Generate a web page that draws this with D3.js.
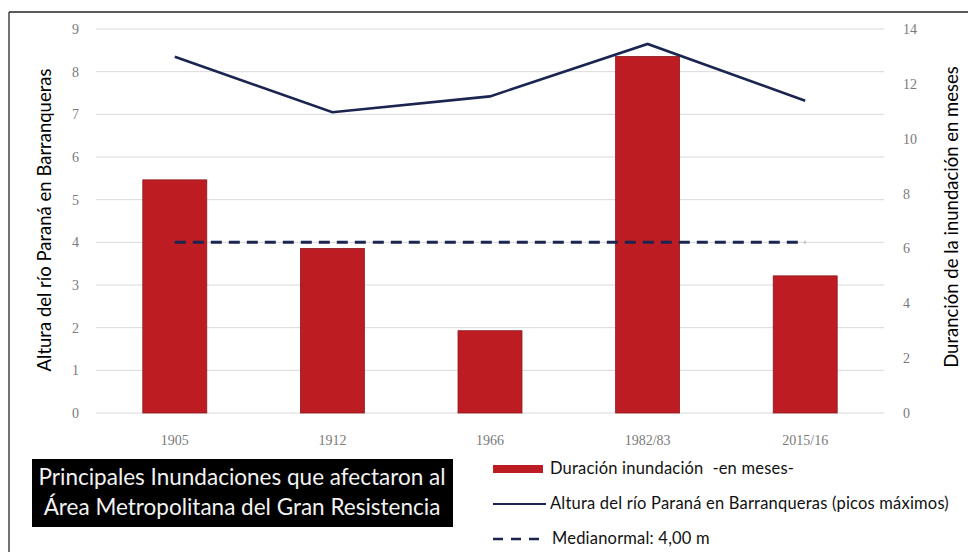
<!DOCTYPE html>
<html>
<head>
<meta charset="utf-8">
<script src="https://cdn.jsdelivr.net/npm/d3@7"></script>
<style>
  body { margin: 0; background: #fff; }
  svg { display: block; }
</style>
</head>
<body>
<svg></svg>
<script>
// data
const years = ["1905", "1912", "1966", "1982/83", "2015/16"];
const duracion = [8.5, 6, 3, 13, 5]; // months, right axis
const altura = [8.35, 7.05, 7.42, 8.65, 7.32]; // m, left axis
const mediaNormal = 4;
const leftTicks = [0, 1, 2, 3, 4, 5, 6, 7, 8, 9];
const rightTicks = [0, 2, 4, 6, 8, 10, 12, 14];

const width = 968, height = 552;
const svg = d3.select("svg").attr("width", width).attr("height", height);

const plot = { left: 96, right: 884, top: 29, bottom: 413 };

// outer frame (top and left only)
svg.append("line").attr("x1", 9).attr("x2", width).attr("y1", 12).attr("y2", 12)
  .attr("stroke", "#222").attr("stroke-width", 1.5);
svg.append("line").attr("x1", 9).attr("x2", 9).attr("y1", 12).attr("y2", height)
  .attr("stroke", "#444").attr("stroke-width", 1.5);

const x = d3.scaleBand().domain(years).range([plot.left, plot.right])
  .paddingInner(0.594).paddingOuter(0.297);
const yL = d3.scaleLinear().domain([0, 9]).range([plot.bottom, plot.top]);
const yR = d3.scaleLinear().domain([0, 14]).range([plot.bottom, plot.top]);
const cx = (d) => x(d) + x.bandwidth() / 2;

// gridlines
svg.append("g").selectAll("line").data(leftTicks).join("line")
  .attr("x1", plot.left).attr("x2", plot.right)
  .attr("y1", (d) => yL(d)).attr("y2", (d) => yL(d))
  .attr("stroke", "#d9d9d9").attr("stroke-width", 1);

// left axis
const yAxisL = d3.axisLeft(yL).tickValues(leftTicks).tickSize(0).tickPadding(0);
svg.append("g").attr("transform", `translate(${79},0)`).call(yAxisL)
  .call((g) => g.select(".domain").remove())
  .selectAll("text").attr("font-family", "Liberation Serif, serif")
  .attr("font-size", 14).attr("fill", "#7a7a7a");

// right axis
const yAxisR = d3.axisRight(yR).tickValues(rightTicks).tickSize(0).tickPadding(0);
svg.append("g").attr("transform", `translate(${903},0)`).call(yAxisR)
  .call((g) => g.select(".domain").remove())
  .selectAll("text").attr("font-family", "Liberation Serif, serif")
  .attr("font-size", 14).attr("fill", "#7a7a7a");

// x axis labels
const xAxis = d3.axisBottom(x).tickSize(0).tickPadding(0);
svg.append("g").attr("transform", `translate(0,${435})`).call(xAxis)
  .call((g) => g.select(".domain").remove())
  .selectAll("text").attr("font-family", "Liberation Serif, serif")
  .attr("font-size", 14).attr("fill", "#7a7a7a");

// bars
svg.append("g").selectAll("rect").data(years).join("rect")
  .attr("x", (d) => x(d))
  .attr("width", x.bandwidth())
  .attr("y", (d, i) => yR(duracion[i]))
  .attr("height", (d, i) => plot.bottom - yR(duracion[i]))
  .attr("fill", "#bd1c23")
  .attr("stroke", "#8e1a20").attr("stroke-width", 0.8);

// media normal dashed line
svg.append("line")
  .attr("x1", cx(years[0])).attr("x2", cx(years[years.length - 1]))
  .attr("y1", yL(mediaNormal)).attr("y2", yL(mediaNormal))
  .attr("stroke", "#1b2550").attr("stroke-width", 3)
  .attr("stroke-dasharray", "11,7");

// altura line
const line = d3.line().x((d, i) => cx(years[i])).y((d) => yL(d));
svg.append("path").datum(altura).attr("d", line)
  .attr("fill", "none").attr("stroke", "#1b2550").attr("stroke-width", 2.6)
  .attr("stroke-linejoin", "miter");

// axis titles
svg.append("text")
  .attr("transform", `translate(${51},${220}) rotate(-90)`)
  .attr("text-anchor", "middle")
  .attr("font-family", "Lato, sans-serif").attr("font-size", 18.5)
  .attr("fill", "#000")
  .text("Altura del río Paraná en Barranqueras");

svg.append("text")
  .attr("transform", `translate(${958},${217}) rotate(-90)`)
  .attr("text-anchor", "middle")
  .attr("font-family", "Lato, sans-serif").attr("font-size", 18.5)
  .attr("fill", "#000")
  .text("Duranción de la inundación en meses");

// title box
svg.append("rect").attr("x", 32).attr("y", 459).attr("width", 421).attr("height", 68)
  .attr("fill", "#000");
const titleLines = ["Principales Inundaciones que afectaron al",
  "Área Metropolitana del Gran Resistencia"];
svg.append("g").selectAll("text").data(titleLines).join("text")
  .attr("x", 242).attr("y", (d, i) => 485 + i * 30)
  .attr("text-anchor", "middle")
  .attr("font-family", "Lato, sans-serif").attr("font-size", 22.5)
  .attr("fill", "#f2f2f2")
  .text((d) => d);

// legend
const legend = svg.append("g").attr("font-family", "Lato, sans-serif")
  .attr("font-size", 16.5).attr("letter-spacing", 0.2).attr("fill", "#111");
legend.append("rect").attr("x", 493).attr("y", 465).attr("width", 50).attr("height", 8)
  .attr("fill", "#bd1c23");
legend.append("text").attr("x", 550).attr("y", 474)
  .text("Duración inundación  -en meses-").style("white-space", "pre");
legend.append("line").attr("x1", 493).attr("x2", 546).attr("y1", 504).attr("y2", 504)
  .attr("stroke", "#1b2550").attr("stroke-width", 2);
legend.append("text").attr("x", 550).attr("y", 509)
  .text("Altura del río Paraná en Barranqueras (picos máximos)");
legend.append("line").attr("x1", 493).attr("x2", 541).attr("y1", 539).attr("y2", 539)
  .attr("stroke", "#1b2550").attr("stroke-width", 2.5)
  .attr("stroke-dasharray", "10,8");
legend.append("text").attr("x", 552).attr("y", 544)
  .text("Medianormal: 4,00 m");
</script>
</body>
</html>
